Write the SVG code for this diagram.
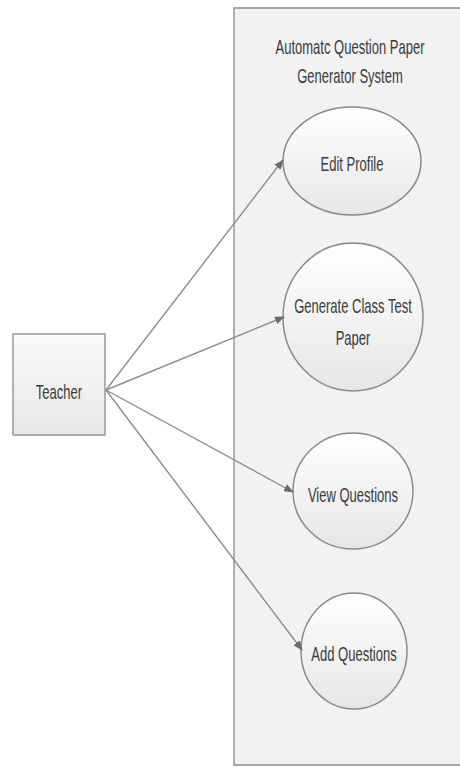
<svg xmlns="http://www.w3.org/2000/svg" width="460" height="767" viewBox="0 0 460 767">
<style>
.t{font-family:"Liberation Sans","DejaVu Sans",sans-serif;font-size:21px;fill:#3a3a3a;text-anchor:middle}
.uc{fill:url(#g);stroke:#8a8a8a;stroke-width:1.5}
.c{stroke:#8c8c8c;stroke-width:1.4;fill:none;marker-end:url(#ah)}
</style>
<defs>
<linearGradient id="g" x1="0" y1="0" x2="0" y2="1">
<stop offset="0" stop-color="#ffffff"/>
<stop offset="1" stop-color="#e6e6e6"/>
</linearGradient>
<linearGradient id="gb" x1="0" y1="0" x2="0" y2="1">
<stop offset="0" stop-color="#fafafa"/>
<stop offset="1" stop-color="#e8e8e8"/>
</linearGradient>
<marker id="ah" markerWidth="10" markerHeight="8" refX="9" refY="4" orient="auto" markerUnits="userSpaceOnUse">
<path d="M0,0 L10,4 L0,8 Z" fill="#6a6a6a"/>
</marker>
</defs>
<rect width="460" height="767" fill="#ffffff"/>
<g id="system">
<path d="M474,8 H234 V765 H474" fill="#f2f2f2" stroke="#8a8a8a" stroke-width="1.3"/>
<text class="t" transform="translate(350,54) scale(0.62,1)">Automatc Question Paper</text>
<text class="t" transform="translate(350,83) scale(0.62,1)">Generator System</text>
</g>
<g id="teacher">
<rect x="13" y="334" width="92" height="101" fill="url(#gb)" stroke="#8a8a8a" stroke-width="1.3"/>
<text class="t" transform="translate(59,399) scale(0.62,1)">Teacher</text>
</g>
<g id="edit-profile">
<ellipse class="uc" cx="352" cy="161" rx="69" ry="54"/>
<text class="t" transform="translate(352,171) scale(0.62,1)">Edit Profile</text>
</g>
<g id="generate">
<ellipse class="uc" cx="353" cy="317" rx="70" ry="74"/>
<text class="t" transform="translate(353,313) scale(0.62,1)">Generate Class Test</text>
<text class="t" transform="translate(353,345) scale(0.62,1)">Paper</text>
</g>
<g id="view">
<ellipse class="uc" cx="353" cy="491" rx="60" ry="58"/>
<text class="t" transform="translate(353,502) scale(0.62,1)">View Questions</text>
</g>
<g id="add">
<ellipse class="uc" cx="354" cy="651" rx="53" ry="58"/>
<text class="t" transform="translate(354,661) scale(0.62,1)">Add Questions</text>
</g>
<g id="connectors">
<line class="c" x1="106" y1="390" x2="283" y2="160"/>
<line class="c" x1="106" y1="390" x2="284" y2="317"/>
<line class="c" x1="106" y1="390" x2="293" y2="492"/>
<line class="c" x1="106" y1="390" x2="302" y2="650"/>
</g>
</svg>
